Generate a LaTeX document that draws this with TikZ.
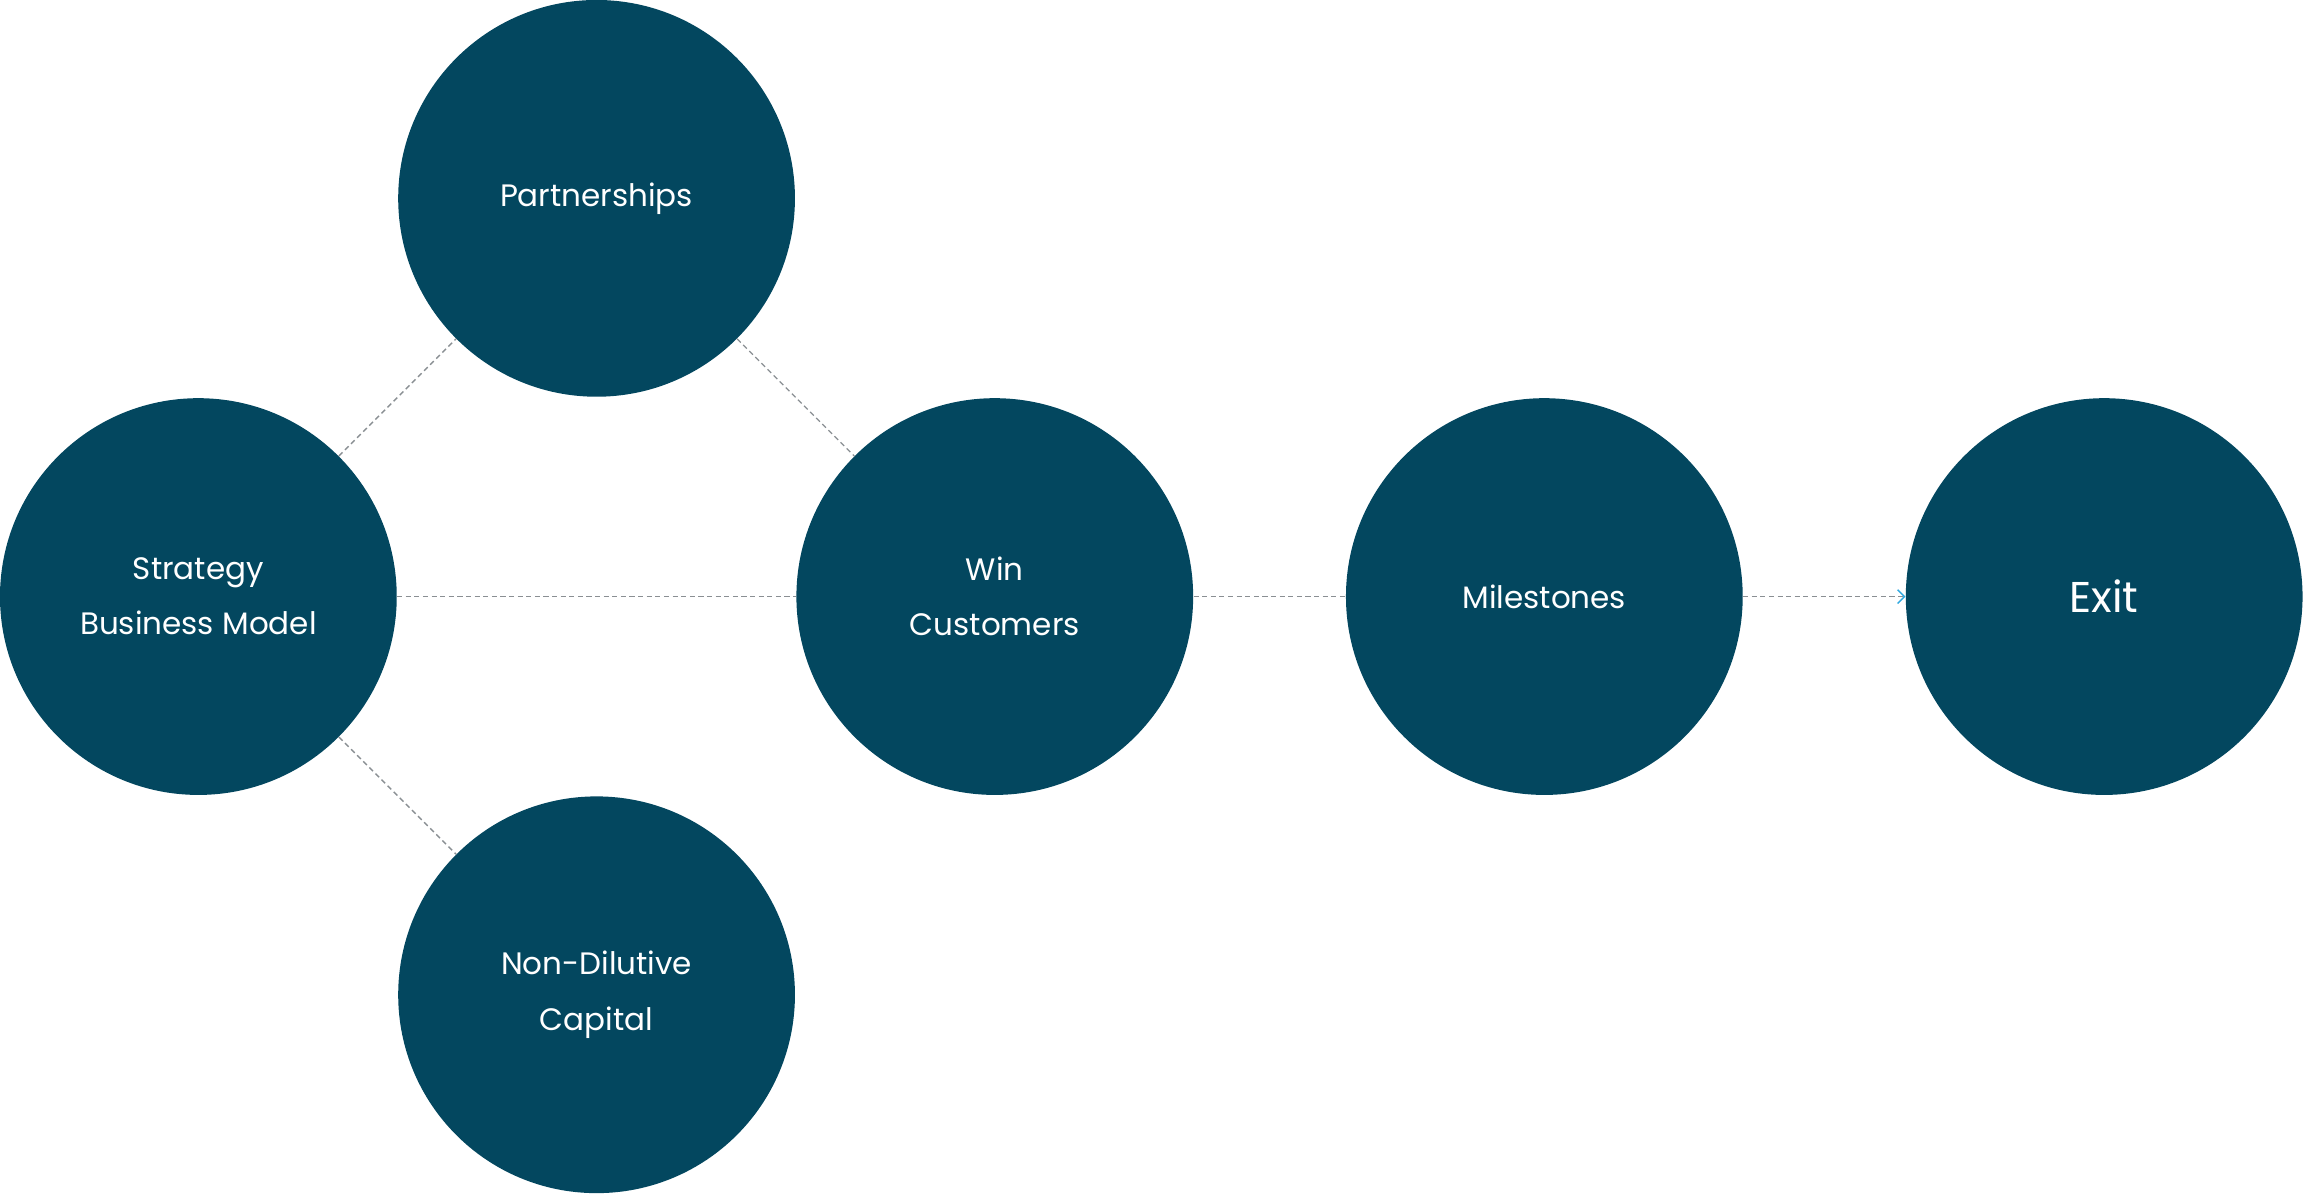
\documentclass[tikz,border=0pt]{standalone}
\usepackage{fontspec}
\setmainfont{Poppins}
\usetikzlibrary{arrows.meta}
\definecolor{stageblue}{HTML}{03475F}
\definecolor{linkgray}{HTML}{8A8F93}
\definecolor{tipblue}{HTML}{2FA8E0}
\begin{document}
\begin{tikzpicture}[x=0.03cm,y=0.03cm,
  stage/.style={circle,fill=stageblue,minimum size=8.1cm,inner sep=0pt,text=white,font=\fontsize{18}{32}\selectfont,align=center},
  link/.style={draw=linkgray,densely dashed,line width=0.8pt}]
\useasboundingbox (0,0) rectangle (1568,813);
% stages
\node[stage] (strategy) at (135,407) {Strategy\\Business Model};
\node[stage] (partner) at (406,678) {Partnerships};
\node[stage] (capital) at (406,136) {Non-Dilutive\\Capital};
\node[stage] (win) at (677,407) {Win\\Customers};
\node[stage] (mile) at (1051,407) {Milestones};
\node[stage,font=\fontsize{25}{30}\selectfont] (exit) at (1432,407) {Exit};
% links
\draw[link] (strategy) -- (partner);
\draw[link] (partner) -- (win);
\draw[link] (strategy) -- (capital);
\draw[link] (strategy) -- (win);
\draw[link] (win) -- (mile);
\draw[link,-{Straight Barb[length=4pt,width=8pt,color=tipblue]}] (mile) -- (exit);
\end{tikzpicture}
\end{document}
